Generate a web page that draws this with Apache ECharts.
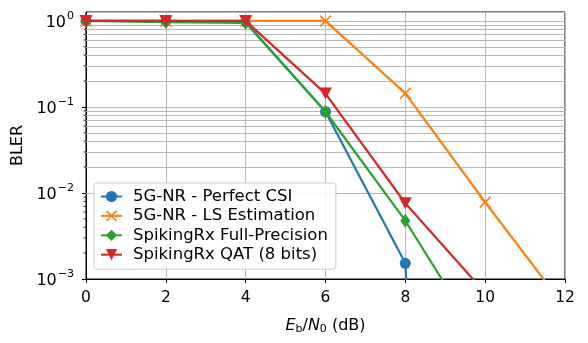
<!DOCTYPE html>
<html>
<head>
<meta charset="utf-8">
<script src="https://cdn.jsdelivr.net/npm/echarts@6/dist/echarts.min.js"></script>
<style>html,body{margin:0;padding:0;background:#fff}#c{width:588px;height:343px}</style>
</head>
<body>
<div id="c"></div>
<script>
// ---- data ----
const xTicks = [0, 2, 4, 6, 8, 10, 12];
const xPerfect = [0, 2, 4, 6, 8, 10];
const perfectCSI = [1, 1, 0.97, 0.088, 0.00152, 1e-20]; // last point: zero BLER
const xLS = [0, 2, 4, 6, 8, 10, 12];
const lsEstimation = [1, 1, 1, 1, 0.144, 0.0078, 0.00047];
const xFull = [0, 2, 4, 6, 8, 10];
const fullPrecision = [1, 0.97, 0.95, 0.088, 0.00476, 0.000155];
const xQAT = [0, 2, 4, 6, 8, 10];
const qat8 = [1, 1, 1, 0.143, 0.0076, 0.00069];
const seriesNames = ['5G-NR - Perfect CSI', '5G-NR - LS Estimation', 'SpikingRx Full-Precision', 'SpikingRx QAT (8 bits)'];
const yMin = 0.001, yMax = 1.27;

// minor grid values 2..9 x 10^k
const minorVals = [];
for (let k = -3; k <= -1; k++) for (let m = 2; m <= 9; m++) minorVals.push(+(m * Math.pow(10, k)).toPrecision(3));

const pair = (xs, ys) => xs.map((x, i) => [x, ys[i]]);
const xPath = 'path://M1,0 L5,4 L9,0 L10,1 L6,5 L10,9 L9,10 L5,6 L1,10 L0,9 L4,5 L0,1 Z';
const font = 'DejaVu Sans';
const fs = 16;
const gridColor = '#b8b8b8';

const chart = echarts.init(document.getElementById('c'), null, {renderer: 'canvas'});
chart.setOption({
  animation: false,
  textStyle: {fontFamily: font},
  grid: {left: 86, right: 23, top: 12, bottom: 64, show: true, borderColor: '#000', borderWidth: 1, backgroundColor: 'transparent'},
  xAxis: {
    type: 'value', min: 0, max: 12, interval: 2,
    axisLine: {onZero: false, lineStyle: {color: '#000', width: 1}},
    axisTick: {show: true, length: 4, lineStyle: {color: '#000'}},
    axisLabel: {color: '#000', fontSize: 15.5, fontFamily: font, margin: 11},
    splitLine: {show: true, lineStyle: {color: gridColor, width: 1}},
    name: '{i|E}{sb|b}{n|/}{i|N}{sb|0}{n| (dB)}',
    nameLocation: 'middle', nameGap: 38,
    nameTextStyle: {
      color: '#000', fontFamily: font,
      rich: {
        i: {fontStyle: 'italic', fontSize: fs, fontFamily: font, color: '#000'},
        n: {fontSize: fs, fontFamily: font, color: '#000'},
        sb: {fontSize: 11, fontFamily: font, color: '#000', verticalAlign: 'bottom', padding: [7, 0, 0, 0]}
      }
    }
  },
  yAxis: {
    type: 'log', logBase: 10, min: yMin, max: yMax,
    axisLine: {show: true, lineStyle: {color: '#000', width: 1}},
    axisTick: {show: true, length: 4, lineStyle: {color: '#000'}},
    axisLabel: {
      color: '#000', fontSize: fs, fontFamily: font, margin: 12, showMaxLabel: false,
      formatter: function (v) {
        const l = Math.log10(v), e = Math.round(l);
        if (Math.abs(l - e) > 0.01) return '';
        return '{b|10}{s|' + (e === 0 ? '0' : '\u2212' + (-e)) + '}';
      },
      rich: {
        b: {fontSize: fs, fontFamily: font, color: '#000', padding: [4, 0, 0, 0]},
        s: {fontSize: 11, fontFamily: font, color: '#000', verticalAlign: 'top', padding: [0, 0, 8, 1]}
      }
    },
    splitLine: {show: true, lineStyle: {color: gridColor, width: 1}},
    name: 'BLER', nameLocation: 'middle', nameGap: 60,
    nameTextStyle: {color: '#000', fontSize: fs, fontFamily: font}
  },
  legend: {
    orient: 'vertical', left: 94, top: 183, z: 50,
    data: seriesNames,
    itemWidth: 21, itemHeight: 14, itemGap: 2.4,
    padding: [5, 8, 6, 6],
    backgroundColor: 'rgba(255,255,255,0.85)',
    borderColor: '#cccccc', borderWidth: 1, borderRadius: 3,
    textStyle: {color: '#000', fontSize: 16.5, fontFamily: font, padding: [0, 0, 0, 6]}
  },
  series: [
    {
      type: 'line', name: '_minor', data: minorVals.map(v => [0, v]), symbol: 'none', silent: true,
      lineStyle: {opacity: 0}, legendHoverLink: false, z: 1, zlevel: 0,
      markLine: {
        silent: true, symbol: ['none', 'none'], label: {show: false}, z: 1,
        lineStyle: {color: gridColor, width: 1, type: 'solid'},
        data: minorVals.map(v => ({yAxis: v}))
      }
    },
    {
      type: 'custom', name: '_minorTicks', silent: true, clip: false, z: 3,
      data: minorVals.map(v => [0, v]),
      renderItem: function (params, api) {
        const p = api.coord([0, api.value(1)]);
        return {type: 'line', shape: {x1: p[0] - 2.5, y1: p[1], x2: p[0], y2: p[1]}, style: {stroke: '#000', lineWidth: 0.8}};
      }
    },
    {
      type: 'line', name: seriesNames[0], data: pair(xPerfect, perfectCSI),
      color: '#1f77b4', symbol: 'circle', symbolSize: 11,
      lineStyle: {width: 2.2}, itemStyle: {color: '#1f77b4'}, z: 5
    },
    {
      type: 'line', name: seriesNames[1], data: pair(xLS, lsEstimation),
      color: '#ff7f0e', symbol: xPath, symbolSize: 12,
      lineStyle: {width: 2.2}, itemStyle: {color: '#ff7f0e'}, z: 6
    },
    {
      type: 'line', name: seriesNames[2], data: pair(xFull, fullPrecision),
      color: '#2ca02c', symbol: 'diamond', symbolSize: [10, 14],
      lineStyle: {width: 2.2}, itemStyle: {color: '#2ca02c'}, z: 7
    },
    {
      type: 'line', name: seriesNames[3], data: pair(xQAT, qat8),
      color: '#d62728', symbol: 'triangle', symbolRotate: 180, symbolSize: [13, 12],
      lineStyle: {width: 2.2}, itemStyle: {color: '#d62728'}, z: 8
    }
  ]
});
</script>
</body>
</html>
